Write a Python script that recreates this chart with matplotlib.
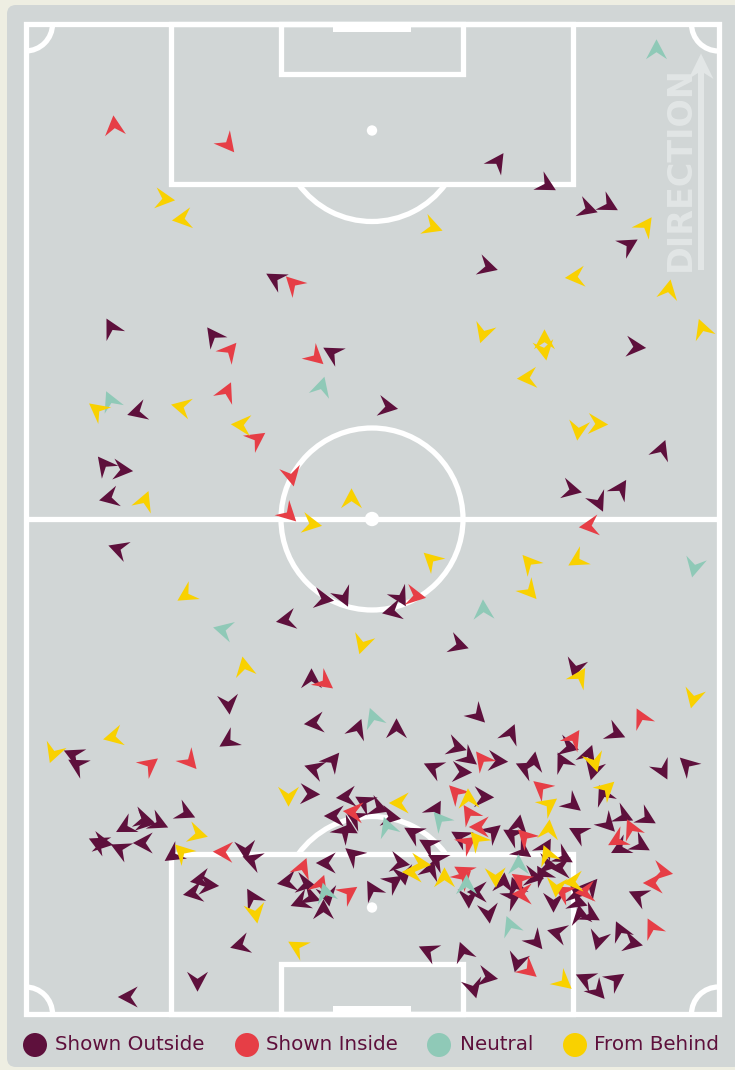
import numpy as np
import matplotlib
matplotlib.use("Agg")
import matplotlib.pyplot as plt
from matplotlib.collections import PolyCollection
from matplotlib.patches import Arc, Circle, FancyBboxPatch, Rectangle

# pitch is 69.3 wide and 99 long, attack goes up, heading in degrees clockwise from up
outside_x = [47.2, 52.1, 56.2, 58.3, 60.3, 46.2, 25.0, 8.6, 18.8, 30.7, 36.2, 11.2, 7.9, 9.7, 8.4, 61.0, 63.6, 54.6, 57.3, 59.5,
             37.5, 36.7, 9.3, 26.1, 29.8, 31.8, 20.3, 28.6, 28.9, 33.2, 37.1, 30.7, 28.9, 4.8, 5.2, 20.3, 43.3, 55.0, 59.0, 45.2,
             48.5, 54.3, 56.3, 56.8, 53.7, 50.0, 50.8, 63.7, 66.2, 43.1, 44.3, 47.2, 40.8, 43.6, 57.8, 54.7, 45.8, 41.0, 46.7, 49.3,
             48.7, 43.5, 55.3, 58.2, 59.8, 62.1, 61.5, 59.5, 52.0, 53.8, 49.7, 40.3, 41.2, 40.5, 44.3, 45.2, 46.3, 47.8, 48.7, 49.0,
             50.8, 51.7, 52.2, 53.5, 52.8, 56.5, 55.0, 55.2, 55.5, 56.5, 61.3, 53.2, 51.0, 57.3, 59.5, 60.7, 40.3, 43.8, 46.2, 44.8,
             49.2, 56.0, 57.2, 59.0, 28.4, 32.1, 33.9, 30.9, 33.0, 31.8, 32.3, 35.3, 36.5, 38.8, 32.8, 30.1, 26.2, 28.0, 27.5, 28.5,
             29.8, 30.2, 34.7, 36.8, 37.4, 37.8, 7.3, 7.7, 9.5, 10.0, 11.8, 12.0, 13.3, 11.8, 16.0, 14.8, 22.0, 22.7, 17.5, 18.3,
             16.8, 22.7, 10.3, 17.2, 21.5]
outside_y = [85.2, 82.9, 80.5, 80.9, 76.9, 74.7, 73.5, 68.6, 67.8, 66.1, 60.7, 60.2, 54.9, 54.4, 51.6, 66.7, 56.4, 52.4, 51.2, 52.5,
             41.7, 40.3, 46.5, 39.4, 41.5, 41.7, 31.0, 33.5, 29.1, 28.5, 28.5, 25.3, 24.5, 25.9, 24.9, 27.3, 36.9, 34.6, 28.1, 29.9,
             28.0, 26.7, 25.9, 24.4, 25.2, 24.6, 25.2, 24.4, 24.9, 26.7, 25.6, 25.3, 24.6, 24.2, 21.9, 21.0, 21.7, 20.4, 18.2, 18.9,
             17.9, 17.7, 18.1, 19.0, 19.8, 19.6, 16.9, 16.6, 16.6, 15.7, 16.3, 16.9, 15.4, 14.4, 11.6, 12.2, 10.1, 13.1, 11.6, 12.7,
             13.7, 13.9, 14.9, 14.6, 11.2, 12.7, 12.1, 11.2, 9.9, 9.9, 11.8, 8.1, 7.3, 7.4, 8.3, 7.1, 6.3, 6.2, 3.7, 2.6,
             5.2, 3.5, 2.3, 3.4, 22.0, 21.7, 21.2, 19.8, 19.6, 18.2, 18.6, 20.6, 19.7, 18.1, 15.9, 15.1, 13.2, 13.0, 11.2, 11.7,
             10.4, 11.8, 12.4, 13.2, 15.1, 13.9, 17.1, 17.1, 16.5, 18.7, 19.5, 19.2, 19.1, 17.1, 20.1, 15.9, 16.4, 15.4, 13.4, 12.9,
             12.1, 11.6, 1.7, 3.3, 6.9]
outside_h = [34, 119, 108, 119, 59, 106, -60, -28, -36, -60, 100, 254, -38, 96, -103, 95, 21, 103, 155, 32,
             150, -103, -71, -100, 99, 155, 174, 0, -96, 21, 0, 39, -72, -65, -60, -122, 108, 195, 114, 135,
             23, 104, 20, 195, -27, -65, 10, 153, -46, 107, 128, 94, -65, 93, -25, 129, 92, 30, 50, 10,
             -60, -60, -62, 136, 115, 120, 120, -118, 30, 120, 125, -60, -62, 20, 178, -90, 173, 5, 60, -20,
             100, -30, 100, -90, 180, 40, 100, 110, -10, 120, -65, -75, 140, 195, -25, 103, -65, -20, 100, 165,
             195, -65, 138, 55, 92, -95, -60, -90, -60, 40, 120, 110, 100, -60, -50, -90, -100, 100, -112, 110,
             0, 170, -30, 55, 100, 170, -65, 100, -65, -118, 105, 100, 115, -90, 115, -124, 175, -70, -100, 95,
             -100, -30, -90, 180, -105]

inside_x = [8.9, 20.2, 26.8, 20.4, 29.0, 20.1, 23.1, 26.6, 26.3, 56.4, 39.0, 29.9, 12.4, 16.4, 61.6, 54.8, 45.7, 51.6, 43.1, 44.4,
            45.4, 44.2, 50.0, 60.6, 59.2, 43.8, 43.8, 49.5, 49.7, 53.8, 56.0, 62.7, 63.7, 62.8, 50.3, 32.8, 27.7, 29.5, 32.3, 19.8]
inside_y = [88.8, 87.0, 73.0, 66.3, 65.7, 62.2, 57.5, 53.8, 50.0, 48.8, 41.8, 33.2, 24.9, 25.3, 29.6, 27.5, 25.4, 22.6, 22.1, 20.0,
            18.7, 17.1, 17.7, 18.5, 17.4, 14.2, 13.6, 13.4, 12.0, 12.2, 12.2, 8.6, 14.2, 13.1, 4.4, 20.2, 14.6, 12.9, 12.1, 16.2]
inside_h = [-6, 141, -45, 40, 132, 25, 55, 168, 134, -97, 100, 127, 52, 139, -27, 33, -37, -50, -44, -33,
            -90, 55, -45, -25, -119, -60, 45, -55, -90, -60, -95, -27, 100, -90, 130, -85, 22, 20, 55, -88]

neutral_x = [63.1, 29.6, 8.5, 66.9, 19.8, 45.8, 34.8, 41.5, 49.3, 44.1, 48.5, 36.2, 30.0]
neutral_y = [96.4, 62.7, 61.3, 44.7, 38.4, 40.4, 29.6, 19.4, 14.9, 12.9, 8.8, 18.7, 12.1]
neutral_h = [0, 16, -24, 193, -76, -3, -20, -40, 0, 0, -22, -20, -15]

behind_x = [13.9, 15.7, 40.7, 62.0, 55.0, 64.3, 45.8, 51.9, 51.9, 50.2, 67.7, 55.3, 57.2, 7.2, 15.6, 21.6, 11.9, 32.6, 28.6, 55.2,
            40.6, 50.4, 50.4, 16.1, 33.7, 21.9, 55.4, 66.8, 8.8, 2.8, 56.9, 58.1, 52.3, 44.3, 45.2, 52.3, 52.2, 41.9, 47.0, 53.1,
            54.8, 53.8, 26.3, 37.4, 38.7, 39.5, 17.2, 15.7, 23.0, 27.2]
behind_y = [81.5, 79.5, 78.7, 78.8, 73.7, 72.4, 68.1, 67.4, 66.4, 63.6, 68.5, 58.4, 59.0, 60.4, 60.7, 58.9, 51.3, 51.5, 49.0, 45.4,
            45.4, 45.1, 42.3, 41.9, 37.0, 34.7, 33.7, 31.6, 27.7, 26.1, 25.2, 22.5, 20.9, 21.5, 17.4, 18.4, 15.9, 13.6, 13.7, 12.7,
            13.2, 3.2, 21.8, 21.1, 14.2, 15.0, 18.0, 16.2, 10.1, 6.7]
behind_h = [97, 262, 110, 35, 265, 11, 198, 0, 170, -94, -20, 187, 93, -52, -77, 274, 22, 0, 100, -121,
            -47, -41, 139, -122, 197, -11, 32, 194, -103, 200, 164, 47, 53, -3, -40, 6, -22, 0, 178, 185,
            -95, 130, 180, -90, -90, 95, 105, -45, 170, -60]

labels = ["Shown Outside", "Shown Inside", "Neutral", "From Behind"]
colors = ["#5E103C", "#E63E46", "#8FC9B7", "#F9D100"]

PITCH_W = 69.3
PITCH_L = 99.0
PANEL = "#D1D6D6"
LINE = "white"
FAINT = "#E2E6E6"
# dart shape: tip, wing, notch, wing
DART = np.array([[0, 1.07], [1.05, -0.92], [0, -0.22], [-1.05, -0.92]])


def darts(x, y, h):
    verts = []
    for px, py, deg in zip(x, y, h):
        a = np.radians(-deg)
        rot = np.array([[np.cos(a), -np.sin(a)], [np.sin(a), np.cos(a)]])
        verts.append(DART @ rot.T + [px, py])
    return verts


fig = plt.figure(figsize=(7.35, 10.7), dpi=100, facecolor="#EEEEE2")

# panel and legend, in pixels of the figure
bg = fig.add_axes([0, 0, 1, 1])
bg.set_xlim(0, 735)
bg.set_ylim(1070, 0)
bg.axis("off")
bg.add_patch(FancyBboxPatch((7, 5), 735, 1062, boxstyle="round,pad=0,rounding_size=9", fc=PANEL, ec="none"))

dot_x = [35, 247, 439, 575]
text_x = [55, 266, 460, 594]
for i in range(4):
    bg.add_patch(Circle((dot_x[i], 1045), 12, fc=colors[i], ec="none"))
    bg.text(text_x[i], 1044.5, labels[i], color=colors[0], fontsize=14.3, va="center", ha="left")

ax = fig.add_axes([25.5 / 735, (1070 - 1014) / 1070, 693 / 735, 990 / 1070])
ax.set_xlim(0, PITCH_W)
ax.set_ylim(0, PITCH_L)
ax.axis("off")
ax.patch.set_alpha(0)

lw = 3.8
mid = PITCH_W / 2
ax.add_patch(Rectangle((0, 0), PITCH_W, PITCH_L, fc="none", ec=LINE, lw=lw, clip_on=False))
ax.plot([0, PITCH_W], [PITCH_L / 2, PITCH_L / 2], color=LINE, lw=lw, solid_capstyle="butt")
ax.add_patch(Circle((mid, PITCH_L / 2), 9.1, fc="none", ec=LINE, lw=lw))
ax.add_patch(Circle((mid, PITCH_L / 2), 0.72, fc=LINE, ec="none"))

for sign, base in [(1, 0), (-1, PITCH_L)]:
    # penalty box, six yard box, goal, spot
    ax.add_patch(Rectangle((14.55, base), 40.2, sign * 16.05, fc="none", ec=LINE, lw=lw, clip_on=False))
    ax.add_patch(Rectangle((25.55, base), 18.2, sign * 5.05, fc="none", ec=LINE, lw=lw, clip_on=False))
    ax.add_patch(Rectangle((30.75, base), 7.8, sign * 0.85, fc=LINE, ec="none", clip_on=False))
    ax.add_patch(Circle((mid, base + sign * 10.65), 0.52, fc=LINE, ec="none"))
    t1, t2 = (36, 144) if sign == 1 else (216, 324)
    ax.add_patch(Arc((mid, base + sign * 10.65), 18.2, 18.2, theta1=t1, theta2=t2, ec=LINE, lw=lw))
    # corners
    ax.add_patch(Arc((0, base), 5.4, 5.4, theta1=0 if sign == 1 else 270, theta2=90 if sign == 1 else 360, ec=LINE, lw=lw))
    ax.add_patch(Arc((PITCH_W, base), 5.4, 5.4, theta1=90 if sign == 1 else 180, theta2=180 if sign == 1 else 270, ec=LINE, lw=lw))

# direction marker
ax.text(65.45, 84.5, "DIRECTION", rotation=90, color=FAINT, fontsize=24, fontweight="bold", ha="center", va="center")
ax.fill([67.25, 67.25, 66.3, 67.55, 68.8, 67.85, 67.85], [74.4, 94.1, 93.5, 96.05, 93.5, 94.1, 74.4], color=FAINT, lw=0)

series = [(outside_x, outside_y, outside_h), (inside_x, inside_y, inside_h),
          (neutral_x, neutral_y, neutral_h), (behind_x, behind_y, behind_h)]
for i, (x, y, h) in enumerate(series):
    ax.add_collection(PolyCollection(darts(x, y, h), facecolors=colors[i], edgecolors="none", zorder=3 + i))

fig.savefig("out.png", dpi=100, facecolor=fig.get_facecolor())
